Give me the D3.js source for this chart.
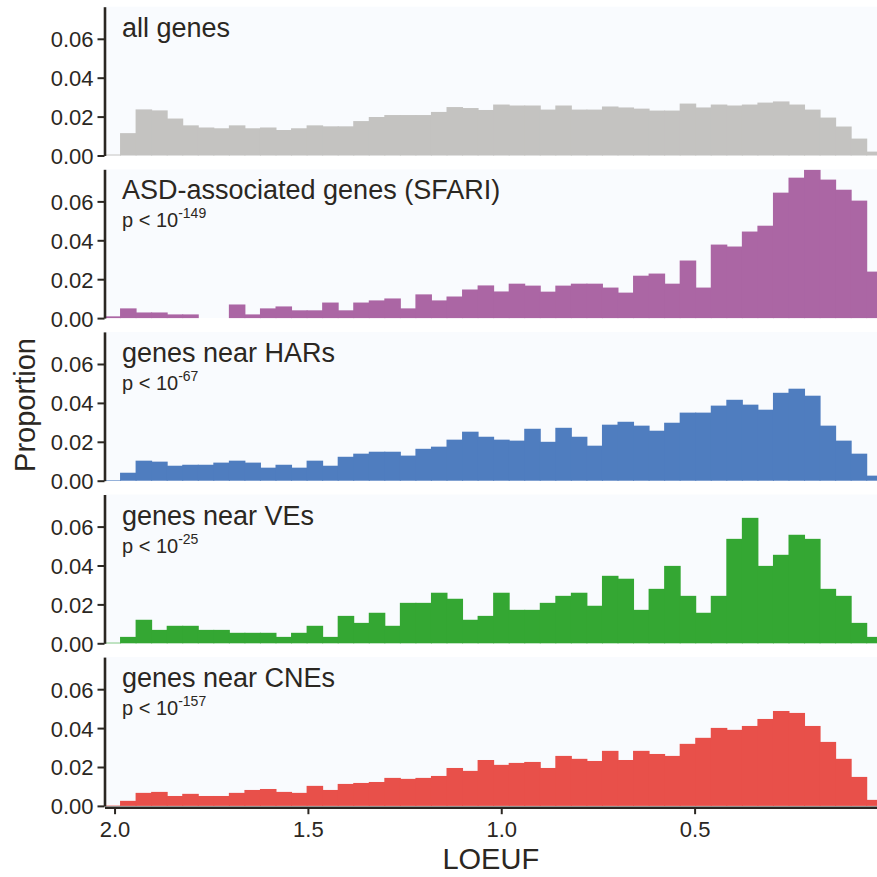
<!DOCTYPE html>
<html>
<head>
<meta charset="utf-8">
<script src="https://cdn.jsdelivr.net/npm/d3@7"></script>
<style>
  body { margin: 0; background: #fff; }
  text { font-family: "Liberation Sans", Arial, sans-serif; fill: #2b2722; }
</style>
</head>
<body>
<svg width="877" height="877"></svg>
<script>
// histogram proportions per LOEUF bin (bins run from 2.0 down towards 0)
const allGenes = [0.0005, 0.0115, 0.0237, 0.0232, 0.019, 0.0155, 0.0144, 0.014, 0.0155, 0.014,
  0.0144, 0.0131, 0.014, 0.0155, 0.015, 0.015, 0.0177, 0.0198, 0.0208, 0.0208,
  0.0208, 0.0224, 0.0249, 0.0244, 0.0234, 0.0262, 0.0257, 0.0257, 0.0236, 0.0257,
  0.0236, 0.0236, 0.0252, 0.0247, 0.0241, 0.0231, 0.0231, 0.0267, 0.0247, 0.0262,
  0.0257, 0.0262, 0.0272, 0.0278, 0.0262, 0.0236, 0.0195, 0.0149, 0.0087, 0.002];
const sfari = [0.0009, 0.005, 0.0029, 0.0029, 0.0019, 0.0019, 0, 0, 0.007, 0.0019,
  0.005, 0.006, 0.004, 0.004, 0.008, 0.004, 0.008, 0.0091, 0.0101, 0.005,
  0.0122, 0.0091, 0.0111, 0.0147, 0.0168, 0.0137, 0.0177, 0.0167, 0.0136, 0.0167,
  0.0177, 0.0177, 0.0157, 0.0131, 0.0218, 0.0229, 0.0177, 0.0296, 0.0157, 0.0378,
  0.0368, 0.0445, 0.0475, 0.0645, 0.0722, 0.0762, 0.0712, 0.066, 0.0604, 0.0239];
const hars = [0.0003, 0.0041, 0.0103, 0.0098, 0.0077, 0.0082, 0.0082, 0.0093, 0.0103, 0.0093,
  0.0067, 0.0082, 0.0067, 0.0103, 0.0077, 0.0123, 0.0139, 0.0149, 0.0149, 0.0129,
  0.0164, 0.0175, 0.0211, 0.0252, 0.0226, 0.0211, 0.0206, 0.0267, 0.02, 0.0272,
  0.0226, 0.018, 0.0288, 0.0303, 0.0283, 0.0257, 0.0298, 0.035, 0.035, 0.0386,
  0.0416, 0.0391, 0.0365, 0.0452, 0.0473, 0.0437, 0.0283, 0.0206, 0.0139, 0.0026];
const ves = [0.0003, 0.0033, 0.0121, 0.0069, 0.009, 0.009, 0.0069, 0.0069, 0.0054, 0.0054,
  0.0054, 0.0033, 0.0054, 0.009, 0.0033, 0.0141, 0.0105, 0.0157, 0.009, 0.0208,
  0.0208, 0.026, 0.0229, 0.0121, 0.0141, 0.026, 0.0172, 0.0172, 0.0208, 0.0244,
  0.026, 0.0193, 0.0347, 0.0332, 0.0172, 0.028, 0.0398, 0.0244, 0.0157, 0.0244,
  0.0537, 0.0645, 0.0398, 0.0455, 0.0558, 0.0537, 0.028, 0.0244, 0.0105, 0.0033];
const cnes = [0.0002, 0.0026, 0.0067, 0.0072, 0.0051, 0.0062, 0.0051, 0.0051, 0.0067, 0.0082,
  0.0087, 0.0072, 0.0067, 0.0103, 0.0082, 0.0113, 0.0118, 0.0123, 0.0144, 0.0139,
  0.0144, 0.0154, 0.0195, 0.018, 0.0236, 0.0211, 0.0221, 0.0226, 0.0195, 0.0257,
  0.0242, 0.0231, 0.0283, 0.0236, 0.0283, 0.0267, 0.0257, 0.0319, 0.035, 0.0401,
  0.0391, 0.0411, 0.0447, 0.0488, 0.0478, 0.0411, 0.0329, 0.0242, 0.0149, 0.0031];

const panelNames = ["all genes", "ASD-associated genes (SFARI)", "genes near HARs", "genes near VEs", "genes near CNEs"];
const pExponents = [null, "-149", "-67", "-25", "-157"];
const colors = ["#c4c3c1", "#ab66a4", "#4f7dbf", "#34a733", "#e8504a"];
const series = [allGenes, sfari, hars, ves, cnes];

const xTicks = [2.0, 1.5, 1.0, 0.5];
const yTicks = [0, 0.02, 0.04, 0.06];

const binStart = 2.026, binWidth = 0.0402;

const svg = d3.select("svg"),
    width = +svg.attr("width");

const left = 104.5;
const x = d3.scaleLinear()
    .domain([binStart, 0])
    .range([left, left + binStart * 386.7]);

const panelH = 148.8, panelStep = 162.6, firstBase = 155.5;

series.forEach(function(vals, i) {
    const base = firstBase + i * panelStep;
    const y = d3.scaleLinear().domain([0, 0.0765]).range([base, base - panelH]);
    const g = svg.append("g");

    // panel background
    g.append("rect")
        .attr("x", left).attr("y", base - panelH)
        .attr("width", width - left).attr("height", panelH)
        .attr("fill", "#f9fbfe");

    // bars (slight overlap so no seams show between neighbours)
    g.selectAll("rect.bar")
        .data(vals)
        .join("rect")
          .attr("class", "bar")
          .attr("x", (d, k) => x(binStart - k * binWidth))
          .attr("width", (d, k) => x(binStart - (k + 1) * binWidth) - x(binStart - k * binWidth) + 1)
          .attr("y", d => y(d))
          .attr("height", d => base - y(d))
          .attr("fill", colors[i]);

    // y axis
    const ax = g.append("g")
        .attr("transform", "translate(" + left + ",0)")
        .call(d3.axisLeft(y).tickValues(yTicks).tickFormat(d3.format(".2f")).tickSize(7).tickSizeOuter(0));
    ax.select(".domain").attr("stroke", "#2b2722").attr("stroke-width", 2.6);
    ax.selectAll(".tick line").attr("stroke", "#2b2722").attr("stroke-width", 2);
    ax.selectAll(".tick text").attr("x", -11).attr("dy", "0.36em")
        .style("font-size", "22px").style("font-family", "'Liberation Sans', Arial, sans-serif").attr("fill", "#2b2722");

    // panel label
    g.append("text")
        .attr("x", 122).attr("y", base - panelH + 30)
        .style("font-size", "27px")
        .text(panelNames[i]);

    if (pExponents[i]) {
        const t = g.append("text")
            .attr("x", 122).attr("y", base - panelH + 58)
            .style("font-size", "20px");
        t.append("tspan").text("p < 10");
        t.append("tspan").attr("dy", -9).style("font-size", "14px").text(pExponents[i]);
    }

    // x axis on the bottom panel
    if (i === series.length - 1) {
        const xa = g.append("g")
            .attr("transform", "translate(0," + (base + 1.3) + ")")
            .call(d3.axisBottom(x).tickValues(xTicks).tickFormat(d3.format(".1f")).tickSize(7).tickSizeOuter(0));
        xa.select(".domain").attr("stroke", "#2b2722").attr("stroke-width", 2.6);
        xa.selectAll(".tick line").attr("stroke", "#2b2722").attr("stroke-width", 2);
        xa.selectAll(".tick text").attr("y", 14).attr("dy", "0.71em")
            .style("font-size", "22px").style("font-family", "'Liberation Sans', Arial, sans-serif").attr("fill", "#2b2722");
    }
});

// axis titles
svg.append("text")
    .attr("x", (left + width) / 2).attr("y", 869)
    .attr("text-anchor", "middle")
    .style("font-size", "29px")
    .text("LOEUF");

svg.append("text")
    .attr("transform", "translate(35,405) rotate(-90)")
    .attr("text-anchor", "middle")
    .style("font-size", "29px")
    .text("Proportion");
</script>
</body>
</html>
